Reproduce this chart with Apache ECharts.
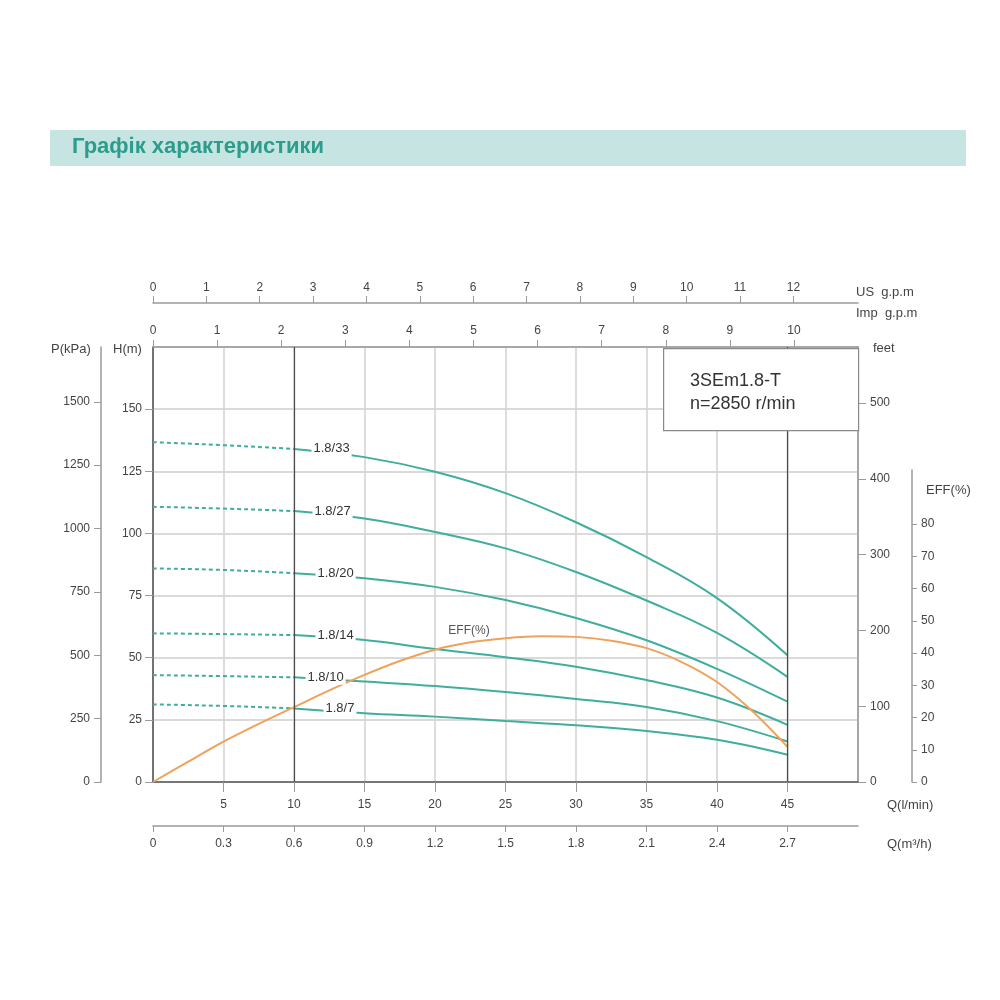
<!DOCTYPE html>
<html>
<head>
<meta charset="utf-8">
<script src="https://cdn.jsdelivr.net/npm/echarts@6/dist/echarts.min.js"></script>
<style>
html, body { margin: 0; padding: 0; background: #fff; }
#chart { width: 1000px; height: 1000px; }
</style>
</head>
<body>
<div id="chart"></div>
<script>
// flow points, l/min
const lowFlow = [0, 5, 10];
const flow = [10, 15, 20, 25, 30, 35, 40, 45];
const models = ['1.8/33', '1.8/27', '1.8/20', '1.8/14', '1.8/10', '1.8/7'];

// head (m) in the dashed low-flow zone
const low33 = [136.7, 135.5, 134];
const low27 = [110.7, 110, 109];
const low20 = [85.9, 85.3, 84];
const low14 = [59.8, 59.5, 59.1];
const low10 = [43, 42.6, 42.1];
const low7 = [31.2, 30.6, 29.6];

// head (m) on the working part of the curve
const head33 = [134, 130.7, 124.8, 116.2, 104.5, 90.5, 74, 51];
const head27 = [109, 106, 100.6, 94, 84.5, 73, 60, 42.3];
const head20 = [84, 82, 78.5, 73.2, 66, 57, 45.5, 32.3];
const head14 = [59.1, 57.1, 53.5, 50.2, 46.4, 41, 34, 23];
const head10 = [42.1, 40.4, 38.6, 36.2, 33.4, 30.2, 24.5, 16.3];
const head7 = [29.6, 27.7, 26.3, 24.5, 22.8, 20.5, 17, 11];

// efficiency (%)
const effFlow = [0, 2.5, 5, 7.5, 10, 12.5, 15, 17.5, 20, 22.5, 25, 27.5, 30, 32.5, 35, 37.5, 40, 42.5, 45];
const eff = [0, 6.3, 12.5, 18, 23.2, 28.4, 33.2, 37.5, 41, 43.3, 44.6, 45.2, 45, 43.8, 41.5, 37.2, 31, 22, 10.9];

// tick labels
const qTicks = [5, 10, 15, 20, 25, 30, 35, 40, 45];
const m3hTicks = [0, 0.3, 0.6, 0.9, 1.2, 1.5, 1.8, 2.1, 2.4, 2.7];
const impTicks = [0, 1, 2, 3, 4, 5, 6, 7, 8, 9, 10];
const usTicks = [0, 1, 2, 3, 4, 5, 6, 7, 8, 9, 10, 11, 12];
const hTicks = [0, 25, 50, 75, 100, 125, 150];
const kpaTicks = [0, 250, 500, 750, 1000, 1250, 1500];
const feetTicks = [0, 100, 200, 300, 400, 500];
const effTicks = [0, 10, 20, 30, 40, 50, 60, 70, 80];

const lows = [low33, low27, low20, low14, low10, low7];
const heads = [head33, head27, head20, head14, head10, head7];
const labelGap = [17, 18, 21, 21, 11, 29];

const FONT = '"Liberation Sans", Arial, sans-serif';
const TXT = '#444';
const AXIS = '#9a9a9a';
const TEAL = '#3fae9d';
const ORANGE = '#eea25a';
const CLEAR = 'rgba(0,0,0,0)';
const H_MAX = 175;
const Q_MAX = 50;
const EFF_PX = 3.225; // px per % on the eff scale

const myChart = echarts.init(document.getElementById('chart'));

const lbl = (vals, margin) => ({
  customValues: vals, color: TXT, fontSize: 12, fontFamily: FONT, margin,
  formatter: (v) => String(Math.round(v * 10) / 10),
});
const tick = (vals, length) => ({
  show: true, customValues: vals, length, lineStyle: { color: AXIS },
});
const line = (color, width) => ({
  show: true, onZero: false, lineStyle: { color, width },
});

const series = [];
models.forEach((name, i) => {
  series.push({
    type: 'line',
    xAxisIndex: 0,
    yAxisIndex: 0,
    symbol: 'none',
    smooth: true,
    silent: true,
    lineStyle: { color: TEAL, width: 2, type: [4, 3] },
    data: lowFlow.map((q, k) => [q, lows[i][k]]),
  });
  series.push({
    type: 'line',
    xAxisIndex: 0,
    yAxisIndex: 0,
    symbol: 'circle',
    symbolSize: 1,
    showSymbol: true,
    itemStyle: { color: CLEAR },
    smooth: 0.4,
    silent: true,
    lineStyle: { color: TEAL, width: 2 },
    data: flow.map((q, k) => {
      if (k !== 0) return [q, heads[i][k]];
      return {
        value: [q, heads[i][k]],
        label: {
          show: true,
          formatter: name,
          position: 'right',
          distance: labelGap[i],
          color: '#333',
          fontSize: 13,
          fontFamily: FONT,
          backgroundColor: '#fff',
          padding: [1, 2],
        },
      };
    }),
  });
});

series.push({
  type: 'line',
  xAxisIndex: 0,
  yAxisIndex: 3,
  symbol: 'circle',
  symbolSize: 1,
  showSymbol: true,
  showAllSymbol: true,
  itemStyle: { color: CLEAR },
  smooth: 0.3,
  silent: true,
  z: 3,
  lineStyle: { color: ORANGE, width: 2 },
  data: effFlow.map((q, k) => {
    if (q !== 20) return [q, eff[k]];
    return {
      value: [q, eff[k]],
      label: {
        show: true,
        formatter: 'EFF(%)',
        position: 'top',
        offset: [34, -8],
        color: '#555',
        fontSize: 12,
        fontFamily: FONT,
      },
    };
  }),
  markLine: {
    silent: true,
    symbol: 'none',
    label: { show: false },
    lineStyle: { color: '#4a4a4a', width: 1.2, type: 'solid' },
    data: [{ xAxis: 10 }, { xAxis: 45 }],
  },
});

const nameText = (text, x, y) => ({
  type: 'text',
  left: x,
  top: y - 8,
  style: { text, fill: TXT, font: `13px ${FONT}` },
});

const option = {
  animation: false,
  backgroundColor: '#fff',
  grid: [
    { left: 153, top: 347, width: 705, height: 435, show: true, borderColor: AXIS, borderWidth: 1 },
    { left: 911, top: 470, width: 1, height: 312 },
  ],
  xAxis: [
    {
      gridIndex: 0, type: 'value', position: 'bottom', min: 0, max: Q_MAX, interval: 5,
      axisLine: line('#555', 1.5),
      axisTick: tick(qTicks, 10),
      axisLabel: lbl(qTicks, 17),
      splitLine: { show: true, lineStyle: { color: '#d2d2d2', width: 1.5 } },
    },
    {
      gridIndex: 0, type: 'value', position: 'bottom', offset: 44, min: 0, max: Q_MAX * 0.06,
      axisLine: line(AXIS, 1.5),
      axisTick: tick(m3hTicks, 6),
      axisLabel: lbl(m3hTicks, 12),
      splitLine: { show: false },
    },
    {
      gridIndex: 0, type: 'value', position: 'top', min: 0, max: Q_MAX / 4.546,
      axisLine: line(AXIS, 1.5),
      axisTick: tick(impTicks, 7),
      axisLabel: lbl(impTicks, 10),
      splitLine: { show: false },
    },
    {
      gridIndex: 0, type: 'value', position: 'top', offset: 44, min: 0, max: Q_MAX / 3.785,
      axisLine: line(AXIS, 1.5),
      axisTick: tick(usTicks, 7),
      axisLabel: lbl(usTicks, 9),
      splitLine: { show: false },
    },
    { gridIndex: 1, type: 'value', show: false, min: 0, max: 1 },
  ],
  yAxis: [
    {
      gridIndex: 0, type: 'value', position: 'left', min: 0, max: H_MAX, interval: 25,
      axisLine: line('#555', 1.5),
      axisTick: tick(hTicks, 8),
      axisLabel: lbl(hTicks, 11),
      splitLine: { show: true, lineStyle: { color: '#dadada', width: 2 } },
    },
    {
      gridIndex: 0, type: 'value', position: 'left', offset: 52, min: 0, max: H_MAX * 9.80665,
      axisLine: line(AXIS, 1.5),
      axisTick: tick(kpaTicks, 7),
      axisLabel: lbl(kpaTicks, 11),
      splitLine: { show: false },
    },
    {
      gridIndex: 0, type: 'value', position: 'right', min: 0, max: H_MAX / 0.3048,
      axisLine: line(AXIS, 1.5),
      axisTick: tick(feetTicks, 8),
      axisLabel: lbl(feetTicks, 12),
      splitLine: { show: false },
    },
    {
      gridIndex: 0, type: 'value', show: false, min: 0, max: 435 / EFF_PX,
    },
    {
      gridIndex: 1, type: 'value', position: 'right', min: 0, max: 312 / EFF_PX,
      axisLine: line(AXIS, 1.5),
      axisTick: tick(effTicks, 5),
      axisLabel: lbl(effTicks, 9),
      splitLine: { show: false },
    },
  ],
  graphic: [
    { type: 'rect', left: 50, top: 130, shape: { width: 916, height: 36 }, style: { fill: '#c6e4e1' } },
    {
      type: 'text', left: 72, top: 136,
      style: { text: 'Графік характеристики', fill: '#2c9c8c', font: `bold 22px ${FONT}` },
    },
    {
      type: 'rect', left: 663, top: 348, z: 10,
      shape: { width: 195, height: 82 },
      style: { fill: '#fff', stroke: '#8a8a8a', lineWidth: 1.2 },
    },
    {
      type: 'text', left: 690, top: 370, z: 11,
      style: { text: '3SEm1.8-T\nn=2850 r/min', fill: '#333', font: `18px ${FONT}`, lineHeight: 23 },
    },
    nameText('US  g.p.m', 856, 294),
    nameText('Imp  g.p.m', 856, 315),
    nameText('P(kPa)', 51, 351),
    nameText('H(m)', 113, 351),
    nameText('feet', 873, 350),
    nameText('EFF(%)', 926, 492),
    nameText('Q(l/min)', 887, 807),
    nameText('Q(m³/h)', 887, 846),
  ],
  series,
};

myChart.setOption(option);
window.addEventListener('resize', () => {
  myChart.resize();
});
</script>
</body>
</html>
